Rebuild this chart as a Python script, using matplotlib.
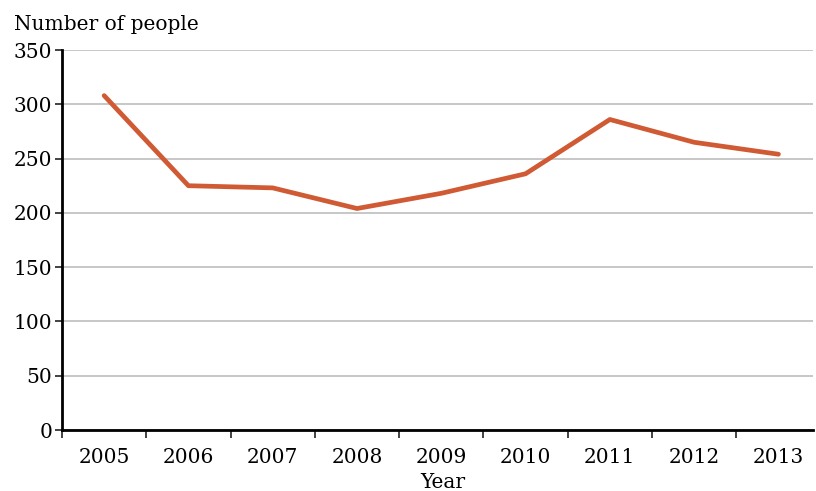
import numpy as np
from matplotlib import pyplot as plt

years = ['2005', '2006', '2007', '2008', '2009', '2010', '2011', '2012', '2013']
people = [308, 225, 223, 204, 218, 236, 286, 265, 254]
yticks = [0, 50, 100, 150, 200, 250, 300, 350]

plt.rcParams['font.family'] = ['DejaVu Serif']
fs = 14.5

W, H = 816, 491
fig = plt.figure(figsize=(W / 100, H / 100), dpi=100)
ax = fig.add_axes([62 / W, 1 - 430 / H, (813 - 62) / W, (430 - 50) / H])

x = np.arange(len(years))
ax.plot(x, people, color='#d05a33', lw=3.4, solid_capstyle='round', zorder=3)

ax.set_ylim(0, 350)
ax.set_xlim(-0.5, 8.41)
ax.set_yticks(yticks)
ax.set_yticklabels([str(v) for v in yticks], fontsize=fs)
ax.yaxis.grid(True, color='#b8b8b8', lw=1.1)
ax.set_axisbelow(True)

# category boundaries get the ticks, labels sit in between
ax.set_xticks(x - 0.5)
ax.set_xticklabels([])
ax.set_xticks(x, minor=True)
ax.set_xticklabels(years, minor=True, fontsize=fs)
ax.tick_params(axis='x', which='major', length=6, width=1.2, color='#222222')
ax.tick_params(axis='x', which='minor', length=0, pad=13)
ax.tick_params(axis='y', length=5, width=1.2, color='#222222', pad=2)

for s in ['top', 'right']:
    ax.spines[s].set_visible(False)
ax.spines['left'].set_linewidth(2)
ax.spines['bottom'].set_linewidth(2)

fig.text(14 / W, 1 - 25 / H, 'Number of people', fontsize=fs, va='center', ha='left')
fig.text(443 / W, 1 - 482 / H, 'Year', fontsize=fs, va='center', ha='center')

plt.savefig('out.png', dpi=100)
